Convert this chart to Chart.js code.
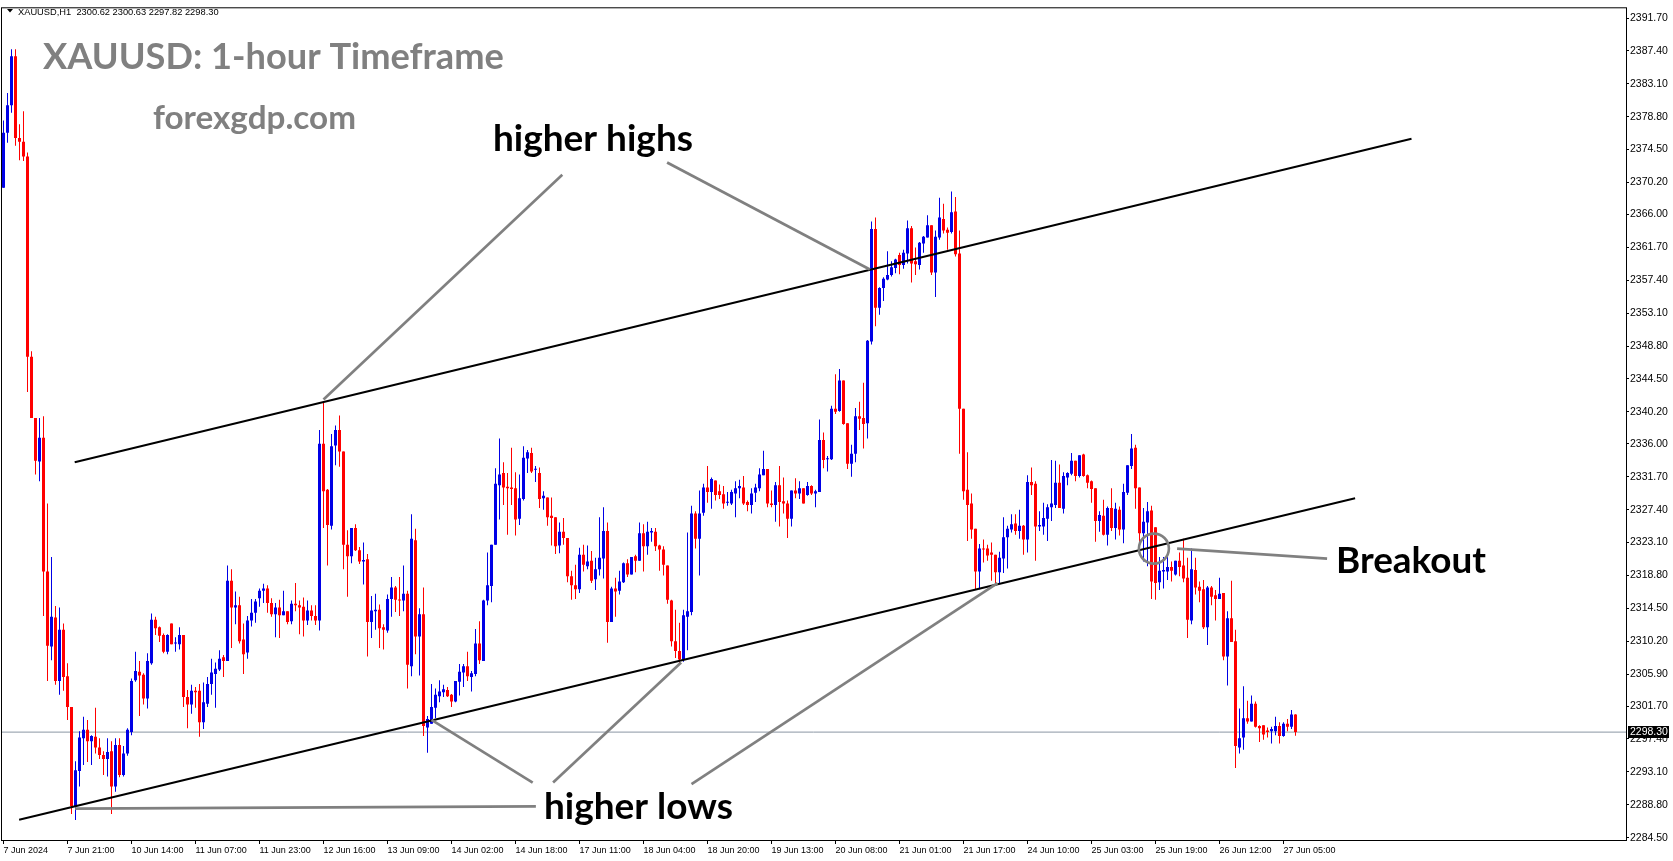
<!DOCTYPE html>
<html>
<head>
<meta charset="utf-8">
<title>XAUUSD H1</title>
<script src="https://cdn.jsdelivr.net/npm/chart.js@4.4.1/dist/chart.umd.min.js"></script>
<style>
  html, body { margin: 0; padding: 0; background: #fff; }
  canvas { display: block; }
</style>
</head>
<body>
<canvas id="grafik" width="1673" height="861"></canvas>
<script>
/* ════════════════════════════════════════════════════════════════════════
   XAUUSD H1 candles (7 Jun 2024 -> 27 Jun 2024)
   ════════════════════════════════════════════════════════════════════════ */

// OHLC per hourly bar, bar 0 = first candle on the left
const opens = [
  2369.5,2376.7,2380.3,2386.7,2376.0,2375.5,2373.6,2347.4,2339.4,2333.7,
  2336.8,2319.3,2309.5,2313.3,2305.0,2311.7,2305.6,2301.6,2288.6,2293.2,
  2297.5,2298.6,2297.1,2297.7,2296.3,2295.3,2294.8,2295.8,2291.2,2296.6,
  2292.7,2295.5,2298.3,2305.1,2306.2,2305.8,2302.7,2307.3,2313.0,2312.0,
  2311.0,2308.8,2312.5,2309.9,2309.8,2311.0,2302.9,2301.9,2303.7,2303.7,
  2299.6,2302.0,2304.6,2305.9,2306.5,2308.1,2307.6,2318.1,2314.6,2314.9,
  2310.4,2308.7,2312.9,2313.9,2315.8,2316.8,2317.1,2315.2,2313.7,2314.6,
  2313.6,2314.1,2312.8,2315.1,2314.9,2314.7,2312.9,2314.2,2313.5,2312.9,
  2336.0,2330.0,2325.3,2335.8,2337.8,2335.0,2322.8,2321.3,2325.0,2322.1,
  2320.6,2320.9,2312.7,2314.1,2314.3,2312.0,2311.6,2315.7,2317.2,2315.6,
  2315.5,2316.4,2306.9,2323.4,2310.8,2313.7,2298.9,2299.4,2301.5,2303.0,
  2303.5,2303.8,2303.2,2302.3,2304.9,2306.1,2306.9,2305.5,2305.9,2309.9,
  2307.6,2315.5,2317.4,2322.8,2330.6,2332.2,2330.4,2330.3,2330.2,2326.2,
  2328.8,2334.1,2334.8,2332.6,2332.2,2328.9,2329.0,2326.6,2326.4,2322.7,
  2324.5,2323.7,2318.7,2317.5,2317.0,2321.5,2320.0,2320.7,2318.3,2319.6,
  2321.0,2324.6,2312.7,2317.1,2316.8,2317.9,2320.4,2318.9,2321.3,2320.7,
  2324.3,2322.6,2324.4,2324.5,2322.7,2322.2,2320.1,2315.5,2310.2,2308.9,
  2307.8,2313.4,2314.0,2326.9,2323.6,2327.0,2330.3,2329.7,2331.2,2329.8,
  2329.4,2328.3,2328.2,2329.5,2330.2,2330.3,2328.4,2328.0,2329.6,2330.2,
  2331.9,2332.7,2328.2,2328.0,2330.6,2328.5,2328.2,2326.2,2329.9,2329.5,
  2330.2,2329.3,2330.5,2329.5,2329.7,2336.5,2334.0,2334.0,2340.6,2340.3,
  2344.3,2338.7,2333.4,2334.7,2339.6,2339.4,2338.7,2349.4,2364.1,2353.8,
  2356.4,2357.5,2358.1,2359.0,2360.7,2359.4,2360.9,2364.2,2359.9,2359.4,
  2362.2,2363.0,2364.6,2358.4,2363.0,2365.4,2364.0,2363.7,2366.4,2360.9,
  2340.6,2330.0,2328.2,2324.9,2319.3,2322.3,2322.3,2321.8,2321.5,2319.2,
  2321.0,2323.8,2324.8,2325.6,2324.6,2325.3,2323.5,2331.0,2330.8,2325.2,
  2325.2,2326.2,2327.7,2328.0,2330.9,2327.5,2331.6,2332.1,2333.8,2331.8,
  2334.6,2331.9,2331.1,2330.2,2325.9,2326.6,2324.1,2327.6,2325.0,2327.4,
  2324.8,2329.6,2333.1,2335.5,2330.3,2324.3,2325.7,2327.3,2325.1,2317.9,
  2319.3,2319.3,2319.9,2318.9,2320.7,2320.1,2318.5,2312.9,2319.5,2317.3,
  2317.0,2312.0,2317.2,2316.2,2315.7,2316.5,2308.2,2313.2,2310.2,2296.3,
  2297.6,2300.1,2299.7,2302.0,2299.1,2299.2,2298.5,2298.4,2298.4,2299.1,
  2297.8,2299.4,2299.0,2300.62
];
const highs = [
  2378.3,2381.9,2387.6,2387.6,2377.8,2379.5,2374.1,2348.1,2339.4,2339.4,
  2339.6,2328.2,2321.2,2314.8,2314.6,2312.5,2307.3,2301.6,2294.5,2298.4,
  2300.3,2299.9,2297.9,2301.5,2297.5,2295.8,2297.5,2297.1,2297.5,2297.5,
  2296.5,2298.8,2305.3,2308.8,2307.6,2306.0,2308.6,2313.8,2313.4,2312.1,
  2311.2,2311.1,2312.5,2310.7,2312.0,2311.0,2303.8,2304.5,2304.2,2304.6,
  2304.8,2305.5,2307.9,2307.4,2309.0,2308.4,2320.1,2319.6,2316.7,2316.0,
  2312.5,2313.5,2315.7,2315.7,2317.1,2317.7,2317.5,2315.8,2315.2,2315.6,
  2316.8,2314.1,2315.5,2317.8,2315.5,2315.9,2315.5,2314.9,2314.9,2337.8,
  2341.6,2330.1,2337.3,2338.4,2339.7,2335.0,2324.7,2325.0,2325.5,2322.5,
  2323.1,2321.6,2316.1,2316.4,2315.0,2312.4,2316.3,2318.6,2317.4,2318.6,
  2320.1,2316.8,2326.8,2324.9,2314.5,2317.2,2300.4,2304.6,2304.0,2305.1,
  2304.5,2304.2,2303.3,2305.0,2307.2,2307.2,2308.8,2306.3,2311.8,2312.8,
  2315.6,2321.8,2322.8,2332.8,2336.7,2333.6,2332.2,2335.5,2332.3,2332.0,
  2335.7,2335.2,2335.5,2333.1,2332.9,2329.8,2329.0,2329.0,2326.4,2325.7,
  2326.3,2323.7,2319.4,2320.2,2322.4,2322.8,2322.7,2322.0,2321.1,2326.4,
  2327.7,2325.7,2317.3,2318.5,2319.4,2320.5,2320.9,2321.2,2321.5,2325.7,
  2325.5,2325.8,2325.0,2325.0,2322.8,2322.6,2320.1,2315.6,2314.3,2312.6,
  2314.3,2324.4,2327.9,2327.2,2329.9,2330.8,2333.1,2331.6,2331.2,2330.7,
  2330.5,2329.7,2330.0,2331.1,2331.3,2331.8,2328.6,2330.2,2330.8,2332.8,
  2335.1,2332.7,2329.9,2331.0,2333.1,2331.6,2328.6,2329.9,2331.5,2331.1,
  2330.2,2331.0,2330.6,2330.0,2339.2,2337.5,2334.4,2341.0,2345.1,2345.8,
  2344.3,2338.7,2335.9,2340.7,2341.5,2344.0,2349.6,2365.1,2365.6,2356.5,
  2357.8,2361.2,2359.9,2360.2,2361.0,2361.4,2365.2,2364.5,2361.7,2362.4,
  2363.2,2365.9,2364.6,2363.9,2368.2,2367.4,2364.3,2369.0,2368.3,2363.9,
  2340.6,2334.9,2329.5,2324.9,2322.9,2323.5,2322.8,2323.1,2321.5,2321.9,
  2326.4,2325.3,2326.8,2326.8,2327.4,2325.4,2331.9,2332.9,2331.1,2327.2,
  2328.3,2328.1,2333.9,2333.8,2333.3,2332.3,2332.3,2334.8,2333.8,2334.5,
  2334.7,2332.0,2331.2,2330.2,2327.2,2328.7,2327.8,2330.2,2328.3,2327.8,
  2330.8,2333.2,2337.3,2335.9,2330.3,2327.6,2328.4,2327.9,2325.1,2321.2,
  2321.2,2321.4,2320.6,2320.7,2321.8,2323.6,2321.1,2322.3,2321.1,2318.0,
  2318.2,2317.4,2317.4,2316.9,2318.5,2316.5,2314.1,2318.1,2311.7,2301.4,
  2304.3,2302.4,2303.1,2302.3,2299.2,2299.2,2298.9,2299.0,2300.3,2299.6,
  2299.6,2300.0,2301.2,2300.63
];
const lows = [
  2369.5,2375.4,2379.3,2375.0,2373.1,2373.0,2342.8,2339.4,2332.0,2331.1,
  2313.5,2305.0,2307.7,2304.5,2303.2,2303.7,2299.9,2287.6,2286.8,2291.2,
  2294.0,2294.4,2294.0,2295.5,2294.8,2292.7,2292.5,2287.6,2290.5,2292.4,
  2292.5,2295.2,2297.9,2304.9,2300.4,2301.9,2301.4,2307.1,2311.0,2310.1,
  2308.6,2308.5,2309.8,2308.8,2309.1,2301.6,2298.8,2300.7,2301.5,2297.7,
  2298.7,2301.6,2303.2,2301.5,2306.3,2305.5,2307.6,2309.3,2312.4,2309.9,
  2305.9,2307.9,2312.1,2312.6,2314.7,2315.2,2313.9,2313.4,2310.7,2310.6,
  2313.6,2312.4,2312.4,2314.1,2311.1,2310.8,2312.3,2312.9,2312.3,2311.6,
  2325.0,2320.1,2324.8,2333.2,2333.0,2319.6,2316.0,2320.4,2322.0,2320.3,
  2317.6,2308.2,2310.6,2311.7,2309.3,2309.1,2311.3,2313.4,2314.0,2313.5,
  2314.1,2304.0,2305.6,2308.5,2305.7,2297.8,2295.6,2299.4,2300.1,2302.2,
  2302.9,2302.9,2301.6,2302.2,2303.1,2304.2,2305.0,2303.6,2305.6,2307.2,
  2307.6,2314.9,2315.3,2322.8,2326.1,2328.0,2324.1,2328.0,2324.0,2325.4,
  2328.6,2332.2,2332.2,2331.0,2327.6,2327.4,2325.3,2322.7,2321.6,2321.7,
  2322.8,2317.9,2315.6,2315.7,2316.5,2319.3,2319.6,2317.8,2316.9,2318.8,
  2318.4,2310.0,2312.7,2313.4,2316.3,2317.8,2318.6,2318.9,2319.2,2320.7,
  2319.3,2321.5,2323.2,2322.0,2319.4,2318.8,2315.1,2309.5,2308.0,2307.2,
  2307.5,2309.0,2313.6,2322.3,2318.8,2326.6,2328.3,2327.5,2328.6,2328.8,
  2327.5,2327.9,2328.0,2326.4,2328.9,2328.0,2327.2,2326.9,2328.4,2329.8,
  2331.9,2327.7,2327.7,2325.8,2325.2,2326.9,2323.7,2325.2,2328.9,2328.8,
  2328.2,2329.2,2329.3,2327.7,2329.7,2332.8,2332.4,2333.9,2339.9,2340.2,
  2338.5,2332.7,2331.7,2333.6,2337.8,2335.4,2336.7,2349.0,2351.4,2352.9,
  2354.7,2357.4,2357.9,2358.3,2358.2,2358.9,2359.6,2357.1,2358.1,2358.8,
  2361.0,2363.0,2358.1,2355.2,2362.7,2363.5,2361.4,2363.5,2360.5,2334.7,
  2328.7,2323.3,2323.6,2316.9,2317.0,2320.5,2320.7,2318.1,2317.6,2317.8,
  2319.1,2319.7,2324.4,2324.1,2323.6,2321.5,2321.8,2329.3,2320.7,2324.6,
  2324.1,2323.3,2325.9,2327.6,2327.6,2326.9,2330.6,2331.9,2331.1,2331.6,
  2331.7,2330.2,2328.3,2323.2,2324.5,2324.0,2322.7,2324.6,2323.5,2324.0,
  2323.0,2329.3,2332.7,2327.5,2321.8,2320.6,2320.0,2315.7,2315.6,2316.9,
  2317.1,2318.2,2318.0,2318.8,2318.7,2317.9,2310.6,2312.4,2316.3,2315.3,
  2311.8,2309.7,2314.9,2312.9,2315.7,2307.7,2304.4,2310.1,2293.6,2295.5,
  2296.0,2299.4,2299.7,2298.9,2297.0,2297.3,2297.6,2296.8,2297.9,2296.8,
  2297.7,2298.4,2298.7,2297.82
];
const closes = [
  2376.7,2380.3,2386.7,2376.0,2375.5,2373.6,2347.4,2339.4,2333.8,2336.8,
  2319.3,2309.6,2313.4,2305.0,2311.7,2305.5,2301.6,2288.6,2293.3,2297.6,
  2298.6,2297.1,2297.8,2296.3,2295.3,2294.8,2295.7,2291.2,2296.6,2292.7,
  2295.5,2298.6,2305.0,2306.3,2305.7,2302.7,2307.6,2313.0,2311.9,2310.9,
  2308.8,2311.0,2309.8,2310.0,2311.0,2302.9,2301.9,2303.7,2303.5,2299.6,
  2302.2,2304.6,2306.1,2306.6,2307.9,2307.6,2318.1,2314.6,2314.9,2310.2,
  2308.5,2312.9,2313.9,2315.4,2316.8,2317.1,2315.2,2313.7,2314.6,2313.6,
  2314.1,2312.7,2315.1,2314.9,2314.6,2312.9,2314.2,2313.5,2312.9,2336.0,
  2329.8,2325.4,2335.7,2337.8,2335.0,2322.8,2321.3,2325.0,2322.1,2320.6,
  2320.8,2312.7,2314.2,2314.3,2311.9,2311.7,2315.7,2317.2,2315.6,2315.5,
  2316.4,2307.1,2323.6,2310.8,2313.7,2299.1,2300.0,2301.6,2303.2,2303.6,
  2303.9,2303.0,2302.3,2305.0,2306.2,2306.9,2305.6,2306.0,2309.9,2307.7,
  2315.5,2317.5,2322.8,2330.8,2332.0,2330.3,2330.2,2330.1,2326.1,2328.9,
  2334.2,2334.9,2332.4,2332.7,2328.8,2329.2,2326.4,2326.3,2322.6,2324.5,
  2323.7,2318.7,2317.5,2317.0,2321.5,2320.2,2320.6,2318.1,2319.6,2321.1,
  2324.6,2312.7,2317.1,2316.7,2318.0,2320.4,2318.9,2321.2,2320.7,2324.3,
  2322.6,2324.5,2324.6,2322.6,2322.2,2320.2,2315.6,2310.2,2308.9,2307.8,
  2313.6,2314.1,2326.9,2323.6,2326.9,2330.3,2329.7,2331.4,2329.3,2329.3,
  2328.2,2328.4,2329.7,2330.2,2330.5,2328.2,2328.0,2329.5,2330.3,2332.0,
  2332.7,2328.2,2328.0,2330.6,2328.4,2328.2,2326.2,2329.9,2329.5,2330.2,
  2328.2,2330.5,2329.5,2329.8,2336.5,2333.9,2334.1,2340.6,2340.2,2344.3,
  2338.6,2333.4,2334.7,2339.6,2339.3,2338.6,2349.5,2364.1,2353.8,2356.4,
  2357.6,2358.1,2359.1,2360.1,2359.4,2361.0,2364.2,2359.6,2359.5,2362.3,
  2363.1,2364.6,2358.4,2363.1,2365.6,2363.9,2363.6,2366.3,2360.8,2340.6,
  2329.8,2328.0,2324.8,2319.3,2322.3,2322.2,2321.4,2321.5,2319.2,2321.1,
  2323.8,2324.9,2325.5,2324.6,2325.3,2323.5,2331.0,2330.6,2325.2,2325.4,
  2326.3,2327.7,2328.2,2330.9,2327.6,2331.8,2332.2,2333.8,2331.8,2334.5,
  2331.8,2330.9,2330.1,2325.9,2326.7,2324.1,2327.6,2325.0,2327.5,2324.8,
  2329.7,2333.2,2335.4,2330.2,2324.3,2325.8,2327.2,2318.0,2317.8,2319.4,
  2319.5,2319.9,2319.4,2320.7,2319.9,2318.4,2313.0,2319.6,2317.2,2316.8,
  2312.0,2317.2,2316.0,2315.7,2316.4,2308.2,2313.2,2310.1,2296.5,2297.5,
  2300.1,2299.7,2302.0,2299.0,2298.8,2298.0,2298.3,2298.7,2299.1,2297.8,
  2299.4,2299.0,2300.6,2298.30
];

// Price axis labels, as printed on the right side
const yTickLabels = [
  2391.70, 2387.40, 2383.10, 2378.80, 2374.50, 2370.20, 2366.00, 2361.70, 2357.40,
  2353.10, 2348.80, 2344.50, 2340.20, 2336.00, 2331.70, 2327.40, 2323.10, 2318.80,
  2314.50, 2310.20, 2305.90, 2301.70, 2297.40, 2293.10, 2288.80, 2284.50
];

// Time axis labels, one every 16 bars
const xTickLabels = [
  '7 Jun 2024', '7 Jun 21:00', '10 Jun 14:00', '11 Jun 07:00', '11 Jun 23:00',
  '12 Jun 16:00', '13 Jun 09:00', '14 Jun 02:00', '14 Jun 18:00', '17 Jun 11:00',
  '18 Jun 04:00', '18 Jun 20:00', '19 Jun 13:00', '20 Jun 08:00', '21 Jun 01:00',
  '21 Jun 17:00', '24 Jun 10:00', '25 Jun 03:00', '25 Jun 19:00', '26 Jun 12:00',
  '27 Jun 05:00'
];
const barsPerLabel = 16;

// Channel lines drawn on the chart (bar index, price)
const upperChannel = [{ x: 17.8, y: 2333.6 }, { x: 352.0, y: 2375.9 }];
const lowerChannel = [{ x: 3.9, y: 2286.85 }, { x: 337.9, y: 2328.9 }];

// Grey pointer lines from the notes to the touches
const highsPointerLeft  = [{ x: 139.7, y: 2371.2 }, { x: 80.0, y: 2341.8 }];
const highsPointerRight = [{ x: 165.9, y: 2372.8 }, { x: 216.6, y: 2358.8 }];
const lowsPointerFlat   = [{ x: 17.9, y: 2288.3 }, { x: 133.1, y: 2288.6 }];
const lowsPointerA      = [{ x: 107.0, y: 2299.9 }, { x: 132.3, y: 2291.7 }];
const lowsPointerB      = [{ x: 169.4, y: 2307.4 }, { x: 137.4, y: 2291.7 }];
const lowsPointerC      = [{ x: 248.5, y: 2317.8 }, { x: 172.0, y: 2291.5 }];
const breakoutPointer   = [{ x: 293.4, y: 2322.3 }, { x: 330.9, y: 2321.0 }];
const breakoutCircle    = [{ x: 287.6, y: 2322.3 }];

// Header quote of the last bar
const symbolName = 'XAUUSD,H1';

// ══ VISIBLE RANGE (matches the screenshot's zoom: 4 px per bar) ══
const xMin = -0.625, xMax = 405.625;
const yMin = 2284.19, yMax = 2393.10;

const upColor = '#0000e6';
const downColor = '#ff0000';
const noteGrey = '#808080';

const wickData = highs.map((h, i) => ({ x: i, y: [lows[i], h] }));
const bodyData = opens.map((o, i) => ({ x: i, y: [o, closes[i]] }));
const candleColor = ctx => closes[ctx.dataIndex] >= opens[ctx.dataIndex] ? upColor : downColor;
const lastClose = closes[closes.length - 1];

function lineSet(points, color, width, order) {
  return {
    type: 'line', data: points, borderColor: color, borderWidth: width,
    pointRadius: 0, fill: false, tension: 0, order
  };
}

// write a text so that it takes exactly the given width
function fitText(ctx, text, x, baseline, width, color, weight, family) {
  ctx.font = `${weight} 100px ${family}`;
  const size = 100 * width / ctx.measureText(text).width;
  ctx.font = `${weight} ${size}px ${family}`;
  ctx.fillStyle = color;
  ctx.textAlign = 'left';
  ctx.textBaseline = 'alphabetic';
  ctx.fillText(text, x, baseline);
}

const noteFont = 'Lato, "Open Sans", sans-serif';
const notes = [
  { text: 'XAUUSD: 1-hour Timeframe', x: 43, base: 69, w: 461, color: noteGrey },
  { text: 'forexgdp.com', x: 153, base: 129, w: 203, color: noteGrey },
  { text: 'higher highs', x: 493, base: 151, w: 200, color: '#000' },
  { text: 'higher lows', x: 544, base: 819, w: 189, color: '#000' },
  { text: 'Breakout', x: 1336, base: 573, w: 150, color: '#000' }
];

const decorPlugin = {
  id: 'decor',
  afterDraw(chart) {
    const { ctx, chartArea: area } = chart;
    ctx.save();

    // frame round the plot
    ctx.strokeStyle = '#000';
    ctx.lineWidth = 1;
    ctx.strokeRect(area.left + 0.5, area.top + 0.5, area.right - area.left, area.bottom - area.top);

    // header: small triangle + quote of the last bar
    ctx.fillStyle = '#000';
    ctx.beginPath();
    ctx.moveTo(7, 9); ctx.lineTo(13, 9); ctx.lineTo(10, 12.5); ctx.closePath();
    ctx.fill();
    const last = opens.length - 1;
    const quote = `${symbolName}  ${opens[last].toFixed(2)} ${highs[last].toFixed(2)} ${lows[last].toFixed(2)} ${closes[last].toFixed(2)}`;
    fitText(ctx, quote, 18, 14.5, 201, '#000', 'normal', '"Liberation Sans", Arial, sans-serif');

    // notes
    notes.forEach(n => fitText(ctx, n.text, n.x, n.base, n.w, n.color, 'bold', noteFont));

    // current price tag on the axis
    const py = chart.scales.y.getPixelForValue(lastClose);
    ctx.fillStyle = '#000';
    ctx.fillRect(area.right + 2, Math.round(py) - 6, 41, 12);
    ctx.fillStyle = '#fff';
    ctx.font = '10.5px "Liberation Sans", Arial, sans-serif';
    ctx.textBaseline = 'middle';
    ctx.textAlign = 'left';
    ctx.fillText(lastClose.toFixed(2), area.right + 4, Math.round(py) + 0.5);

    ctx.restore();
  }
};

new Chart(document.getElementById('grafik'), {
  type: 'bar',
  data: {
    datasets: [
      // candle wicks
      {
        data: wickData, grouped: false, barThickness: 1, maxBarThickness: 1,
        backgroundColor: candleColor, borderWidth: 0, inflateAmount: 0, order: 5
      },
      // candle bodies
      {
        data: bodyData, grouped: false, barThickness: 3, maxBarThickness: 3,
        backgroundColor: candleColor, borderWidth: 0, inflateAmount: 0, minBarLength: 1, order: 4
      },
      // current price line
      lineSet([{ x: xMin, y: lastClose }, { x: xMax, y: lastClose }], '#8a96a3', 1, 6),
      // channel
      lineSet(upperChannel, '#000', 2, 2),
      lineSet(lowerChannel, '#000', 2, 2),
      // pointers
      lineSet(highsPointerLeft, noteGrey, 2.7, 1),
      lineSet(highsPointerRight, noteGrey, 2.7, 1),
      lineSet(lowsPointerFlat, noteGrey, 2.7, 1),
      lineSet(lowsPointerA, noteGrey, 2.7, 1),
      lineSet(lowsPointerB, noteGrey, 2.7, 1),
      lineSet(lowsPointerC, noteGrey, 2.7, 1),
      lineSet(breakoutPointer, noteGrey, 2.7, 1),
      {
        type: 'line', data: breakoutCircle, showLine: false, pointRadius: 15,
        pointBorderWidth: 2.6, pointBorderColor: noteGrey,
        pointBackgroundColor: 'rgba(0,0,0,0)', order: 0
      }
    ]
  },
  options: {
    responsive: false,
    animation: false,
    events: [],
    layout: { padding: { left: 1, top: 2, right: 0, bottom: 0 }, autoPadding: false },
    plugins: { legend: { display: false }, tooltip: { enabled: false } },
    scales: {
      x: {
        type: 'linear', min: xMin, max: xMax, offset: false,
        border: { display: false },
        grid: { drawOnChartArea: false, drawTicks: true, tickLength: 4, color: '#000', offset: false },
        afterBuildTicks: s => { s.ticks = xTickLabels.map((t, k) => ({ value: k * barsPerLabel })); },
        afterFit: s => { s.height = 21; },
        ticks: {
          autoSkip: false, maxRotation: 0, align: 'start', padding: 1, color: '#000',
          font: { family: '"Liberation Sans", Arial, sans-serif', size: 9 },
          callback: (v, k) => xTickLabels[k]
        }
      },
      y: {
        type: 'linear', position: 'right', min: yMin, max: yMax, beginAtZero: false,
        border: { display: false },
        grid: { drawOnChartArea: false, drawTicks: true, tickLength: 3, color: '#000' },
        afterBuildTicks: s => { s.ticks = yTickLabels.map(v => ({ value: v })); },
        afterFit: s => { s.width = 47; },
        ticks: {
          autoSkip: false, padding: 1, color: '#000',
          font: { family: '"Liberation Sans", Arial, sans-serif', size: 10.5 },
          callback: v => v.toFixed(2)
        }
      }
    }
  },
  plugins: [decorPlugin]
});
</script>
</body>
</html>
